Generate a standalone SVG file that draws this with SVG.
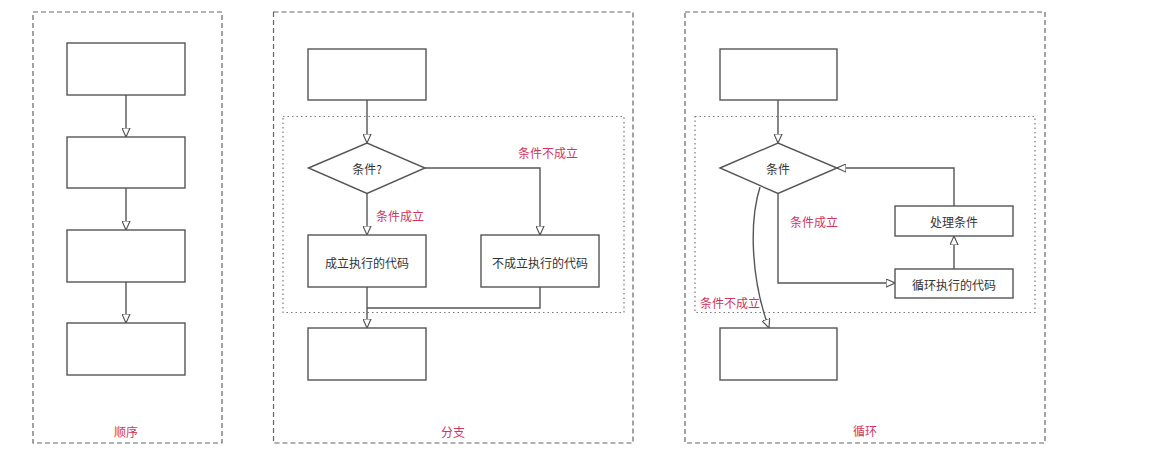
<svg xmlns="http://www.w3.org/2000/svg" width="1175" height="458" viewBox="0 0 1175 458">
<defs>
<style>
.frame{fill:none;stroke:#666;stroke-width:1.2;stroke-dasharray:5 3}
.inner{fill:none;stroke:#777;stroke-width:1.2;stroke-dasharray:1.5 3}
.box{fill:#fff;stroke:#555;stroke-width:1.4}
.edge{fill:none;stroke:#555;stroke-width:1.4}
.t{font-family:"Noto Sans CJK SC","Liberation Sans",sans-serif;font-size:12px;fill:#333;text-anchor:middle;dominant-baseline:central}
.r{font-family:"Noto Sans CJK SC","Liberation Sans",sans-serif;font-size:12px;fill:#d03560;dominant-baseline:central}
</style>
<marker id="arr" viewBox="0 0 10 10" refX="10" refY="5" markerWidth="9" markerHeight="9" markerUnits="userSpaceOnUse" orient="auto">
<path d="M0,0.5 L10,5 L0,9.5 Z" fill="#fff" stroke="#555" stroke-width="1.3"/>
</marker>
</defs>
<rect width="1175" height="458" fill="#fff"/>

<g id="panel-seq">
<rect class="frame" x="33" y="12" width="189" height="431"/>
<text class="r" x="126" y="431" text-anchor="middle">顺序</text>
</g>
<g id="panel-branch">
<rect class="frame" x="273.5" y="12" width="359.5" height="431"/>
<rect class="inner" x="283" y="116.5" width="341" height="196"/>
<text class="r" x="453" y="431" text-anchor="middle">分支</text>
</g>
<g id="panel-loop">
<rect class="frame" x="685" y="12" width="360" height="431"/>
<rect class="inner" x="695" y="116.5" width="340" height="196"/>
<text class="r" x="865" y="430" text-anchor="middle">循环</text>
</g>

<g id="connectors">
<path class="edge" d="M126,95 V137" marker-end="url(#arr)"/>
<path class="edge" d="M126,188 V230" marker-end="url(#arr)"/>
<path class="edge" d="M126,282 V323" marker-end="url(#arr)"/>

<path class="edge" d="M367,100 V143" marker-end="url(#arr)"/>
<path class="edge" d="M367,193.5 V235" marker-end="url(#arr)"/>
<path class="edge" d="M425,168 H540 V235" marker-end="url(#arr)"/>
<path class="edge" d="M367,287 V328" marker-end="url(#arr)"/>
<path class="edge" d="M540,287 V308 H367"/>

<path class="edge" d="M778,100 V143" marker-end="url(#arr)"/>
<path class="edge" d="M778,193.5 V283 H895" marker-end="url(#arr)"/>
<path class="edge" d="M954,269 V236" marker-end="url(#arr)"/>
<path class="edge" d="M954,206 V168 H837" marker-end="url(#arr)"/>
<path class="edge" d="M760,187 C749,222 751,280 769,328" marker-end="url(#arr)"/>
</g>

<g id="seq-1"><rect class="box" x="67" y="43" width="118" height="52"/></g>
<g id="seq-2"><rect class="box" x="67" y="137" width="118" height="51"/></g>
<g id="seq-3"><rect class="box" x="67" y="230" width="118" height="52"/></g>
<g id="seq-4"><rect class="box" x="67" y="323" width="118" height="52"/></g>

<g id="br-start"><rect class="box" x="308" y="49" width="118" height="51"/></g>
<g id="br-cond"><path class="box" d="M308.5,168 L367,143 L425,168 L367,193.5 Z"/><text class="t" x="367" y="168">条件?</text></g>
<g id="br-yes"><rect class="box" x="308" y="235" width="118" height="52"/><text class="t" x="367" y="262">成立执行的代码</text></g>
<g id="br-no"><rect class="box" x="481" y="235" width="118" height="52"/><text class="t" x="540" y="262">不成立执行的代码</text></g>
<g id="br-end"><rect class="box" x="308" y="328" width="118" height="52"/></g>
<text class="r" x="518" y="152">条件不成立</text>
<text class="r" x="376" y="215">条件成立</text>

<g id="lp-start"><rect class="box" x="720" y="49" width="117" height="51"/></g>
<g id="lp-cond"><path class="box" d="M720,168 L778,143 L837,168 L778,193.5 Z"/><text class="t" x="778" y="168">条件</text></g>
<g id="lp-update"><rect class="box" x="895" y="206" width="118" height="30"/><text class="t" x="954" y="221">处理条件</text></g>
<g id="lp-body"><rect class="box" x="895" y="269" width="118" height="29"/><text class="t" x="954" y="284">循环执行的代码</text></g>
<g id="lp-end"><rect class="box" x="720" y="328" width="117" height="52"/></g>
<text class="r" x="790" y="221">条件成立</text>
<text class="r" x="700" y="302">条件不成立</text>
</svg>
